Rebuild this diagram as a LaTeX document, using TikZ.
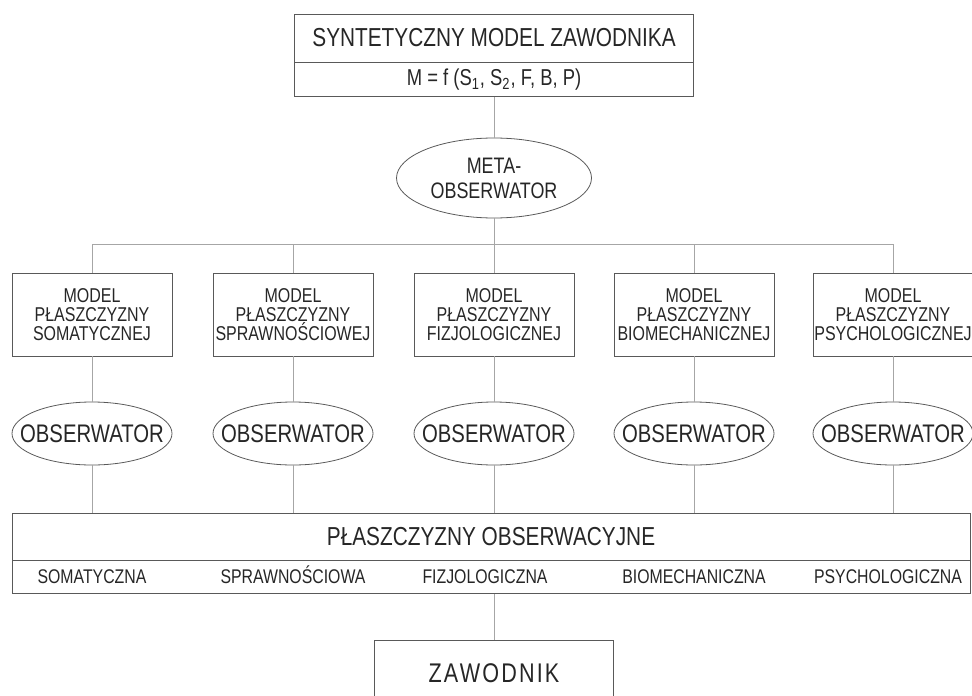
\documentclass[tikz,border=0pt]{standalone}
\usepackage{fontspec}
\setmainfont{Liberation Sans}[FakeStretch=0.8]
\usetikzlibrary{positioning,shapes.geometric}

\begin{document}
\begin{tikzpicture}[x=0.5pt,y=-0.5pt,
  box/.style={draw=black!65,thin,inner sep=0pt,align=center,text=black!85},
  model/.style={box,minimum width=80pt,minimum height=41.5pt,
                font=\fontsize{10}{9.5}\selectfont},
  obs/.style={ellipse,draw=black!65,thin,inner ysep=0pt,inner xsep=-8.5pt,align=center,
              text=black!85,minimum width=80pt,minimum height=31.5pt,
              font=\fontsize{12.7}{13}\selectfont},
  kind/.style={font=\fontsize{9.9}{10}\selectfont,text=black!85,anchor=base},
  link/.style={draw=black!35,thin},
]
\path[use as bounding box] (0,0) rectangle (972,695);
\clip (0,0) rectangle (972,695);

% Synthetic model on top
\node[box,minimum width=199.5pt,minimum height=24pt,font=\fontsize{13}{13}\selectfont]
  (syn) at (494,38) {SYNTETYCZNY MODEL ZAWODNIKA};
\node[box,minimum width=199.5pt,minimum height=17pt,font=\fontsize{11.5}{12}\selectfont,
  below=0pt of syn] (func) {M = f (S\textsubscript{1}, S\textsubscript{2}, F, B, P)};

% Meta-observer
\node[obs,inner xsep=0pt,minimum width=97.5pt,minimum height=40pt,
  font=\fontsize{11.2}{12.5}\selectfont] (meta) at (494,178) {META-\\OBSERWATOR};

% Bus
\coordinate (bus1) at (92,244);
\coordinate (bus2) at (293,244);
\coordinate (bus3) at (494,244);
\coordinate (bus4) at (694,244);
\coordinate (bus5) at (893,244);

% Plane models
\node[model] (msom) at (92,314.5) {MODEL\\PŁASZCZYZNY\\SOMATYCZNEJ};
\node[model] (mspr) at (293,314.5) {MODEL\\PŁASZCZYZNY\\SPRAWNOŚCIOWEJ};
\node[model] (mfiz) at (494,314.5) {MODEL\\PŁASZCZYZNY\\FIZJOLOGICZNEJ};
\node[model] (mbio) at (694,314.5) {MODEL\\PŁASZCZYZNY\\BIOMECHANICZNEJ};
\node[model] (mpsy) at (893,314.5) {MODEL\\PŁASZCZYZNY\\PSYCHOLOGICZNEJ};

% Observers
\node[obs] (osom) at (92,433.5) {OBSERWATOR};
\node[obs] (ospr) at (293,433.5) {OBSERWATOR};
\node[obs] (ofiz) at (494,433.5) {OBSERWATOR};
\node[obs] (obio) at (694,433.5) {OBSERWATOR};
\node[obs] (opsy) at (893,433.5) {OBSERWATOR};

% Observation planes
\node[box,minimum width=479pt,minimum height=23.5pt,font=\fontsize{13}{13}\selectfont]
  (planes) at (491,536.5) {PŁASZCZYZNY OBSERWACYJNE};
\node[box,minimum width=479pt,minimum height=16.5pt,below=0pt of planes] (kinds) {};
\node[kind] (ksom) at (92,583.5) {SOMATYCZNA};
\node[kind] (kspr) at (293,583.5) {SPRAWNOŚCIOWA};
\node[kind] (kfiz) at (485,583.5) {FIZJOLOGICZNA};
\node[kind] (kbio) at (694,583.5) {BIOMECHANICZNA};
\node[kind] (kpsy) at (888,583.5) {PSYCHOLOGICZNA};

% Athlete
\node[box,minimum width=119.5pt,minimum height=33pt,
  font=\fontsize{13.5}{14}\selectfont\addfontfeature{LetterSpace=8}]
  (athlete) at (494,673) {ZAWODNIK};

% Connectors
\draw[link] (func) -- (meta);
\draw[link] (meta) -- (bus3);
\draw[link] (bus1) -- (bus5);
\draw[link] (bus1) -- (msom);
\draw[link] (bus2) -- (mspr);
\draw[link] (bus3) -- (mfiz);
\draw[link] (bus4) -- (mbio);
\draw[link] (bus5) -- (mpsy);
\draw[link] (msom) -- (osom);
\draw[link] (mspr) -- (ospr);
\draw[link] (mfiz) -- (ofiz);
\draw[link] (mbio) -- (obio);
\draw[link] (mpsy) -- (opsy);
\draw[link] (osom) -- (osom |- planes.north);
\draw[link] (ospr) -- (ospr |- planes.north);
\draw[link] (ofiz) -- (ofiz |- planes.north);
\draw[link] (obio) -- (obio |- planes.north);
\draw[link] (opsy) -- (opsy |- planes.north);
\draw[link] (athlete |- kinds.south) -- (athlete);

\end{tikzpicture}
\end{document}
